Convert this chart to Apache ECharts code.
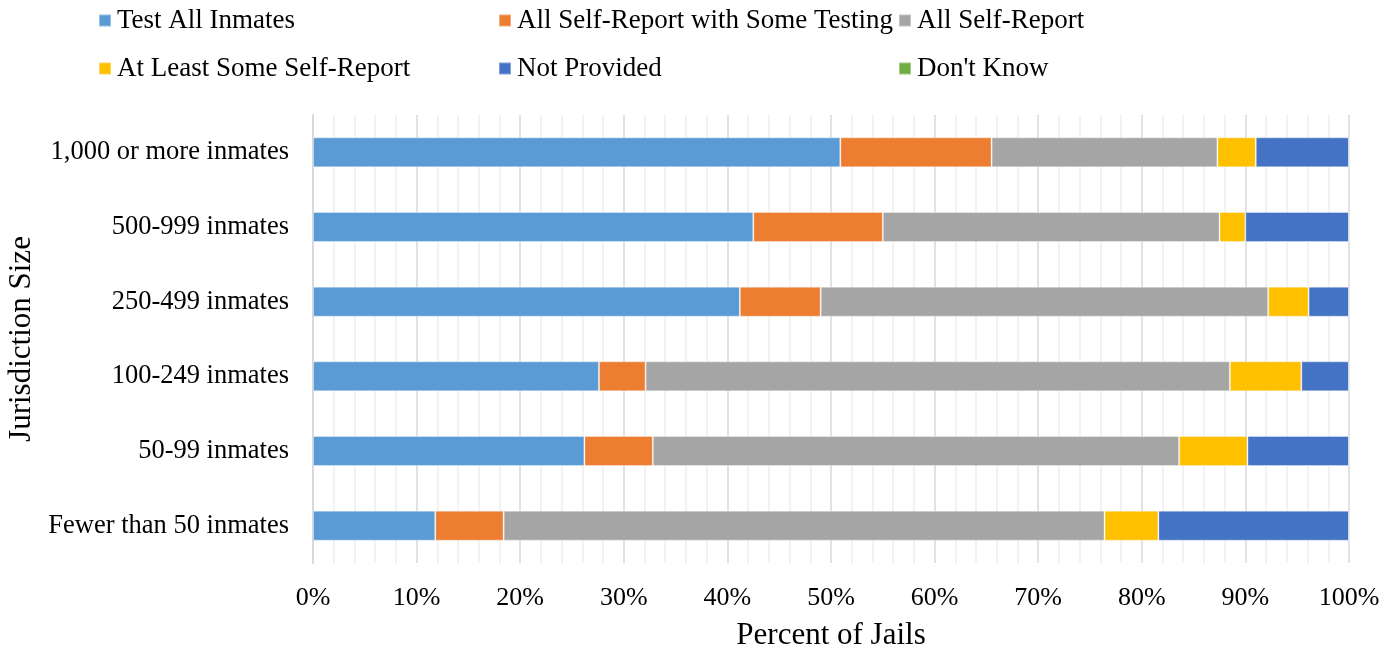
<!DOCTYPE html>
<html><head><meta charset="utf-8">
<script src="https://cdn.jsdelivr.net/npm/echarts@6/dist/echarts.min.js"></script>
<style>html,body{margin:0;padding:0;background:#fff}#c{width:1397px;height:654px}</style>
</head><body><div id="c"></div>
<script>
const categories = ['1,000 or more inmates','500-999 inmates','250-499 inmates','100-249 inmates','50-99 inmates','Fewer than 50 inmates'];
const seriesNames = ['Test All Inmates','All Self-Report with Some Testing','All Self-Report','At Least Some Self-Report','Not Provided',"Don't Know"];
const testAll        = [50.9, 42.5, 41.2, 27.6, 26.2, 11.8];
const selfWithTest   = [14.6, 12.5, 7.8, 4.5, 6.6, 6.6];
const allSelf        = [21.8, 32.5, 43.2, 56.4, 50.8, 58.0];
const atLeastSome    = [3.7, 2.5, 3.9, 6.9, 6.6, 5.2];
const notProvided    = [9.0, 10.0, 3.9, 4.6, 9.8, 18.4];
const dontKnow       = [0, 0, 0, 0, 0, 0];
const colors = ['#5B9BD5','#ED7D31','#A5A5A5','#FFC000','#4472C4','#70AD47'];
const values = [testAll, selfWithTest, allSelf, atLeastSome, notProvided, dontKnow];

const font = '"Liberation Serif", "Times New Roman", serif';
const legendPos = [[98,7],[498,7],[898,7],[98,55],[498,55],[898,55]];
const legends = seriesNames.map((n,i)=>({
  data:[n], left:legendPos[i][0], top:legendPos[i][1], padding:0, itemWidth:12, itemHeight:12, itemGap:4,
  icon:'rect', textStyle:{fontFamily:font, fontSize:27, color:'#000', padding:[0,0,0,1]}, selectedMode:false
}));

const chart = echarts.init(document.getElementById('c'));
chart.setOption({
  animation:false,
  legend: legends,
  grid:{left:313, right:48, top:115, bottom:91, containLabel:false, outerBoundsMode:'none'},
  xAxis:{
    type:'value', min:0, max:100, interval:10,
    axisLabel:{formatter:'{value}%', fontFamily:font, fontSize:26, color:'#000', margin:22},
    axisLine:{show:false}, axisTick:{show:false},
    splitLine:{show:true, lineStyle:{color:'#d9d9d9', width:1.5}},
    minorTick:{show:false, splitNumber:5},
    minorSplitLine:{show:true, lineStyle:{color:'#eeeeee', width:1.5}},
    name:'Percent of Jails', nameLocation:'middle', nameGap:57,
    nameTextStyle:{fontFamily:font, fontSize:31, color:'#000'}
  },
  yAxis:{
    type:'category', data:categories, inverse:true,
    axisLabel:{fontFamily:font, fontSize:26.5, color:'#000', margin:24},
    axisLine:{show:true, lineStyle:{color:'#d9d9d9', width:2}}, axisTick:{show:false},
    name:'Jurisdiction Size', nameLocation:'middle', nameGap:270, nameRotate:90,
    nameTextStyle:{fontFamily:font, fontSize:31, color:'#000'}
  },
  series: seriesNames.map((n,i)=>({
    name:n, type:'bar', stack:'total', data:values[i], barWidth:30,
    itemStyle:{color:colors[i], borderColor:'rgba(255,255,255,0.35)', borderWidth:1}
  }))
});
</script></body></html>
